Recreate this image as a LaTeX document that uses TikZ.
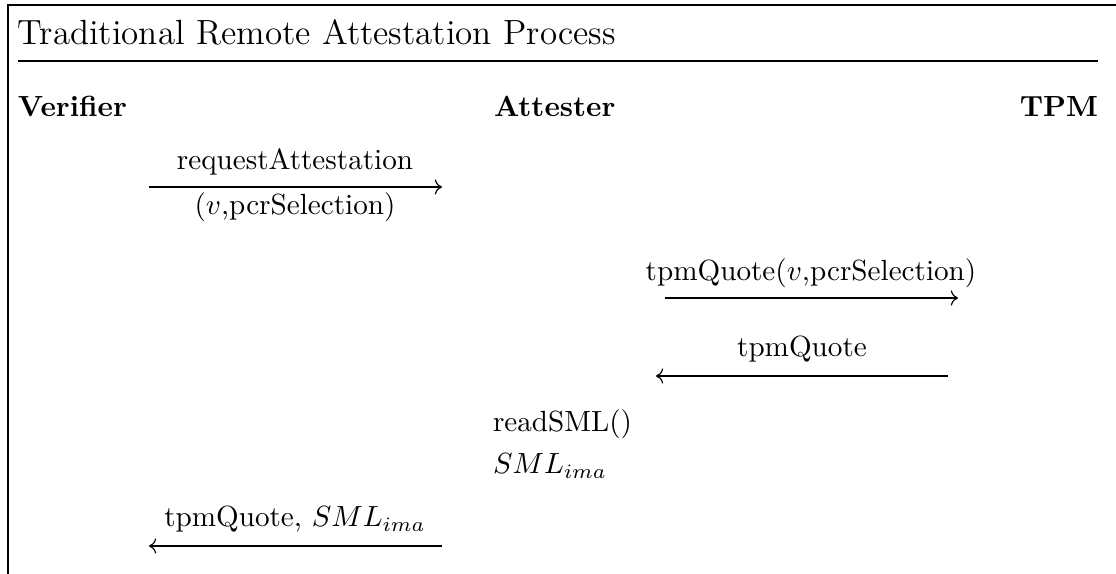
\documentclass[tikz,border=0pt]{standalone}
\usetikzlibrary{arrows.meta}
\begin{document}
\begin{tikzpicture}[x=0.3428pt,y=-0.3428pt,
  txt/.style={inner sep=0pt,outer sep=0pt},
  party/.style={txt,font=\bfseries},
  msg/.style={->,line width=0.4pt},
  frameline/.style={line width=0.4pt}]
\useasboundingbox (0,0) rectangle (1116,574);
% procedure frame (open towards right and bottom)
\draw[frameline] (1116,5) -- (8,5) -- (8,574);
% header and rule
\node[txt,anchor=base west,font=\large] (title) at (18,45) {Traditional Remote Attestation Process};
\draw[frameline] (18,61) -- (1098,61);
% parties
\node[party,anchor=base west] (verifier) at (18,117) {Verifier};
\node[party,anchor=base west] (attester) at (494,117) {Attester};
\node[party,anchor=base east] (tpm) at (1098,117) {TPM};
% message 1: Verifier -> Attester
\coordinate (m1a) at (149,187);
\coordinate (m1b) at (442,187);
\draw[msg] (m1a) -- (m1b);
\node[txt,anchor=base] (m1top) at (295,170) {requestAttestation};
\node[txt,anchor=base] (m1bot) at (295,215) {($v$,pcrSelection)};
% message 2: Attester -> TPM
\coordinate (m2a) at (665,298);
\coordinate (m2b) at (958,298);
\draw[msg] (m2a) -- (m2b);
\node[txt,anchor=base] (m2top) at (811,281) {tpmQuote($v$,pcrSelection)};
% message 3: TPM -> Attester
\coordinate (m3a) at (948,376);
\coordinate (m3b) at (656,376);
\draw[msg] (m3a) -- (m3b);
\node[txt,anchor=base] (m3top) at (802,357) {tpmQuote};
% local steps of the attester
\node[txt,anchor=base west] (read) at (493,432) {readSML()};
\node[txt,anchor=base west] (sml) at (493,474) {$SML_{ima}$};
% message 4: Attester -> Verifier
\coordinate (m4a) at (442,546);
\coordinate (m4b) at (149,546);
\draw[msg] (m4a) -- (m4b);
\node[txt,anchor=base] (m4top) at (295,527) {tpmQuote, $SML_{ima}$};
\end{tikzpicture}
\end{document}
